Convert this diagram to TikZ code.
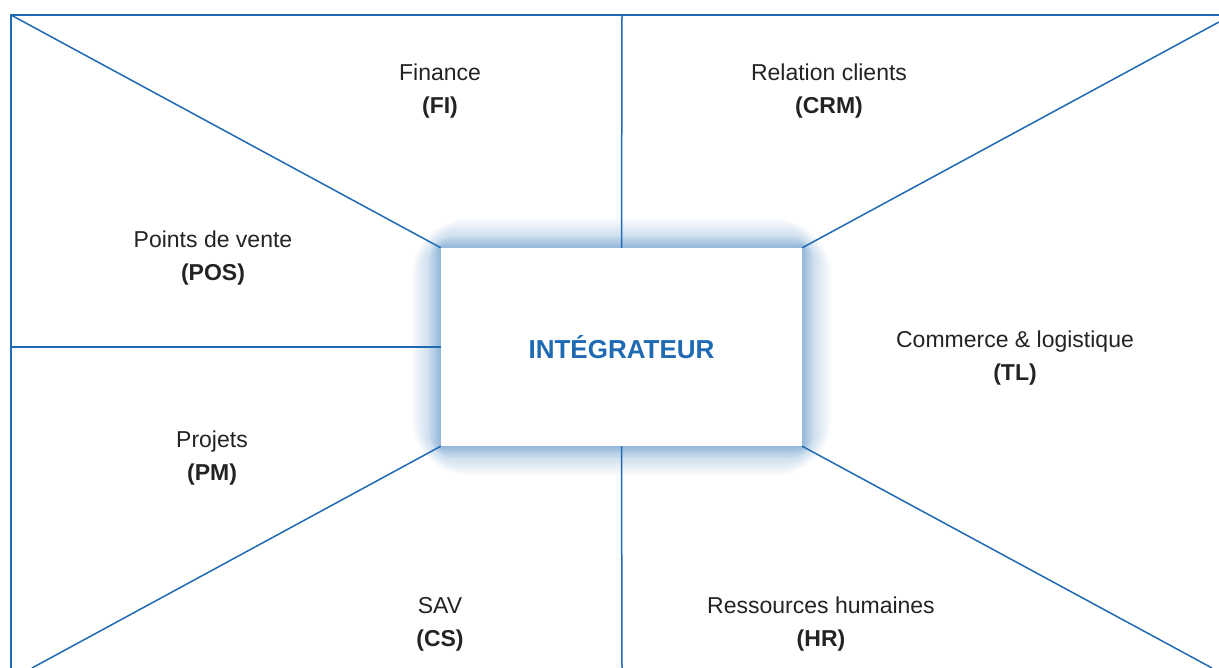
\documentclass[tikz,border=0pt]{standalone}
\usepackage{fontspec}
\setmainfont{Liberation Sans}
\definecolor{lb}{RGB}{31,106,178}
\definecolor{txt}{RGB}{35,35,35}
\begin{document}
\begin{tikzpicture}[x=1pt,y=-1pt,
  line/.style={draw=lb,line width=1.5pt},
  lbl/.style={align=center,font=\fontsize{23}{33}\selectfont,text=txt,inner sep=0pt},
  glow/.style={fill=lb,draw=none}]
\useasboundingbox (0,0) rectangle (1219,668);
\node[minimum width=361pt,minimum height=198pt,inner sep=0pt] (box) at (621.5,347) {};
% glow
\foreach \i in {1,...,30}{
  \fill[glow,opacity=0.01,rounded corners=2*\i pt] ([xshift=-\i pt,yshift=\i pt]box.north west) rectangle ([xshift=\i pt,yshift=-\i pt]box.south east);
}
\foreach \i in {1,...,12}{
  \fill[glow,opacity=0.022,rounded corners=2*\i pt] ([xshift=-\i pt,yshift=\i pt]box.north west) rectangle ([xshift=\i pt,yshift=-\i pt]box.south east);
}
% frame
\coordinate (tl) at (11,15);
\coordinate (tr) at (1219,15);
\coordinate (bl) at (11,668);
\coordinate (ttop) at (622,15);
\coordinate (tbot) at (622,668);
\coordinate (lmid) at (11,347);
\coordinate (dne) at (1219,22);
\coordinate (dsw) at (32,668);
\coordinate (dse) at (1212,668);
\draw[line] (tr) -- (tl) -- (bl);
\draw[line] (tl) -- (box.north west);
\draw[line] (box.north east) -- (dne);
\draw[line] (box.south west) -- (dsw);
\draw[line] (box.south east) -- (dse);
\draw[line] (box.north) -- (ttop);
\draw[line] (box.south) -- (tbot);
\draw[line] (box.west) -- (lmid);
% box
\node[fill=white,minimum width=361pt,minimum height=198pt,inner sep=0pt,text=lb,font=\fontsize{26}{30}\selectfont\bfseries] (boxlabel) at (box) {INTÉGRATEUR};
% labels
\node[lbl] (fi) at (440,91.5) {Finance\\\textbf{(FI)}};
\node[lbl] (crm) at (829,91.5) {Relation clients\\\textbf{(CRM)}};
\node[lbl] (pos) at (213,258.5) {Points de vente\\\textbf{(POS)}};
\node[lbl] (tlg) at (1015,358.5) {Commerce \& logistique\\\textbf{(TL)}};
\node[lbl] (pm) at (212,458.5) {Projets\\\textbf{(PM)}};
\node[lbl] (cs) at (440,624.5) {SAV\\\textbf{(CS)}};
\node[lbl] (hr) at (821,624.5) {Ressources humaines\\\textbf{(HR)}};
\end{tikzpicture}
\end{document}
